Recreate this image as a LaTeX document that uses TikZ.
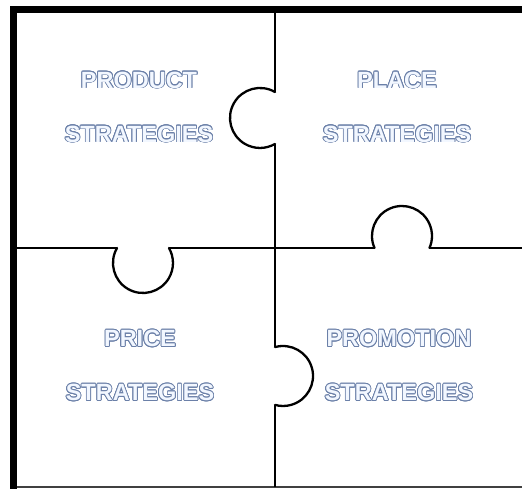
\documentclass[tikz,border=0pt]{standalone}
\usepackage{fontspec}
\setmainfont{Liberation Sans}
\usepackage{xcolor}
\usepackage{contour}
\usetikzlibrary{positioning}
\definecolor{inkblue}{rgb}{0.42,0.50,0.66}
\definecolor{paleblue}{rgb}{0.95,0.97,1.00}
\definecolor{edgegray}{gray}{0.25}
\contourlength{0.8pt}
\newcommand{\hollow}[1]{\contour{inkblue}{\textcolor{paleblue}{#1}}}
\tikzset{
  frameline/.style={line width=6.5pt,draw=black},
  baseline/.style={line width=1.5pt,draw=edgegray},
  cutline/.style={line width=1.4pt,draw=black},
  knobline/.style={line width=2.3pt,draw=black,line cap=round},
  tilelabel/.style={align=center,inner sep=0pt,
                    font=\bfseries\fontsize{23.5}{54}\selectfont},
}

\begin{document}
\begin{tikzpicture}[x=1pt,y=1pt]
        \useasboundingbox (0,0) rectangle (522,489);
        % outer frame
        \draw[baseline] (13,2) -- (522,2);
        \draw[frameline] (13.3,0) -- (13.3,479.5) -- (522,479.5);
        % vertical cut with two knobs
        \draw[cutline] (275,479.5) -- (275,397);
        \draw[knobline] (275,397) arc[start angle=60,end angle=300,radius=30];
        \draw[cutline] (275,345) -- (275,141.9);
        \draw[knobline] (275,141.9) arc[start angle=105.5,end angle=-105.5,radius=30];
        \draw[cutline] (275,84.1) -- (275,2);
        % horizontal cut with two knobs
        \draw[cutline] (13,241) -- (117,241);
        \draw[knobline] (117,241) arc[start angle=150,end angle=390,radius=30];
        \draw[cutline] (169,241) -- (374.5,241);
        \draw[knobline] (374.5,241) arc[start angle=203.6,end angle=-23.6,radius=30];
        \draw[cutline] (429.5,241) -- (522,241);
        % tile labels
        \node[tilelabel] (product) at (139,381.5) {\hollow{PRODUCT}\\\hollow{STRATEGIES}};
        \node[tilelabel] (place) at (397,381.5) {\hollow{PLACE}\\\hollow{STRATEGIES}};
        \node[tilelabel] (price) at (140,123) {\hollow{PRICE}\\\hollow{STRATEGIES}};
        \node[tilelabel] (promotion) at (399,123) {\hollow{PROMOTION}\\\hollow{STRATEGIES}};
      \end{tikzpicture}
\end{document}
